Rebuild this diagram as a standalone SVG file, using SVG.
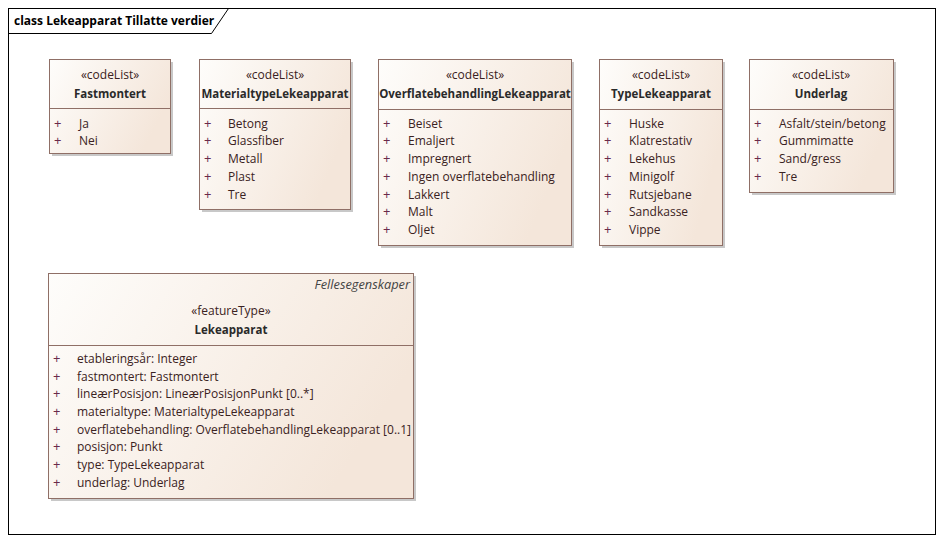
<svg xmlns="http://www.w3.org/2000/svg" width="944" height="543" viewBox="0 0 944 543">
<defs>
<linearGradient id="g" x1="0" y1="0" x2="1" y2="0.4">
<stop offset="0" stop-color="#fefdfb"/>
<stop offset="1" stop-color="#f4e6da"/>
</linearGradient>
<style>
.box{fill:url(#g);stroke:#8f6f66;stroke-width:1}
.sh{fill:#c8c8c8}
.div{stroke:#8f6f66;stroke-width:1}
text{font-family:"Open Sans","Noto Sans",sans-serif;font-size:12px;fill:#3a2222}
.st{text-anchor:middle;fill:#3a2222}
.nm{text-anchor:middle;font-weight:bold;fill:#2a2a2a;font-size:11.5px}
.pl{fill:#6a2a4a;font-size:13px}
.it{font-style:italic;text-anchor:end;fill:#444;font-size:12.8px}
.fr{fill:none;stroke:#000;stroke-width:1}
.ttl{font-weight:bold;fill:#000;font-size:12px}
</style>
</defs>
<rect x="0" y="0" width="944" height="543" fill="#fff"/>
<g id="frame">
<rect class="fr" x="8.5" y="8.5" width="927" height="526"/>
<path class="fr" d="M8.5 33.5 H211.5 L228.5 8.5"/>
<text class="ttl" x="14" y="25">class Lekeapparat Tillatte verdier</text>
</g>
<g id="connectors"></g>
<g id="Fastmontert">
<rect class="sh" x="52" y="62" width="121" height="94"/>
<rect class="box" x="49.5" y="59.5" width="121" height="94"/>
<line class="div" x1="49.5" y1="108.5" x2="170.5" y2="108.5"/>
<text class="st" x="110" y="79">«codeList»</text>
<text class="nm" x="110" y="98">Fastmontert</text>
<text class="pl" x="54" y="128">+</text><text x="79" y="128">Ja</text>
<text class="pl" x="54" y="145">+</text><text x="79" y="145">Nei</text>
</g>
<g id="MaterialtypeLekeapparat">
<rect class="sh" x="202" y="62" width="151" height="150"/>
<rect class="box" x="199.5" y="59.5" width="151" height="150"/>
<line class="div" x1="199.5" y1="108.5" x2="350.5" y2="108.5"/>
<text class="st" x="275" y="79">«codeList»</text>
<text class="nm" x="275" y="98">MaterialtypeLekeapparat</text>
<text class="pl" x="204" y="128">+</text><text x="228" y="128">Betong</text>
<text class="pl" x="204" y="145">+</text><text x="228" y="145">Glassfiber</text>
<text class="pl" x="204" y="163">+</text><text x="228" y="163">Metall</text>
<text class="pl" x="204" y="181">+</text><text x="228" y="181">Plast</text>
<text class="pl" x="204" y="199">+</text><text x="228" y="199">Tre</text>
</g>
<g id="OverflatebehandlingLekeapparat">
<rect class="sh" x="381" y="62" width="193" height="186"/>
<rect class="box" x="378.5" y="59.5" width="193" height="186"/>
<line class="div" x1="378.5" y1="109.5" x2="571.5" y2="109.5"/>
<text class="st" x="475" y="79">«codeList»</text>
<text class="nm" x="475" y="98">OverflatebehandlingLekeapparat</text>
<text class="pl" x="383" y="128">+</text><text x="408" y="128">Beiset</text>
<text class="pl" x="383" y="145">+</text><text x="408" y="145">Emaljert</text>
<text class="pl" x="383" y="163">+</text><text x="408" y="163">Impregnert</text>
<text class="pl" x="383" y="181">+</text><text x="408" y="181">Ingen overflatebehandling</text>
<text class="pl" x="383" y="199">+</text><text x="408" y="199">Lakkert</text>
<text class="pl" x="383" y="216">+</text><text x="408" y="216">Malt</text>
<text class="pl" x="383" y="234">+</text><text x="408" y="234">Oljet</text>
</g>
<g id="TypeLekeapparat">
<rect class="sh" x="602" y="62" width="123" height="186"/>
<rect class="box" x="599.5" y="59.5" width="123" height="186"/>
<line class="div" x1="599.5" y1="109.5" x2="722.5" y2="109.5"/>
<text class="st" x="661" y="79">«codeList»</text>
<text class="nm" x="661" y="98">TypeLekeapparat</text>
<text class="pl" x="604" y="128">+</text><text x="629" y="128">Huske</text>
<text class="pl" x="604" y="145">+</text><text x="629" y="145">Klatrestativ</text>
<text class="pl" x="604" y="163">+</text><text x="629" y="163">Lekehus</text>
<text class="pl" x="604" y="181">+</text><text x="629" y="181">Minigolf</text>
<text class="pl" x="604" y="199">+</text><text x="629" y="199">Rutsjebane</text>
<text class="pl" x="604" y="216">+</text><text x="629" y="216">Sandkasse</text>
<text class="pl" x="604" y="234">+</text><text x="629" y="234">Vippe</text>
</g>
<g id="Underlag">
<rect class="sh" x="752" y="62" width="144" height="133"/>
<rect class="box" x="749.5" y="59.5" width="144" height="133"/>
<line class="div" x1="749.5" y1="109.5" x2="893.5" y2="109.5"/>
<text class="st" x="821" y="79">«codeList»</text>
<text class="nm" x="821" y="98">Underlag</text>
<text class="pl" x="754" y="128">+</text><text x="779" y="128">Asfalt/stein/betong</text>
<text class="pl" x="754" y="145">+</text><text x="779" y="145">Gummimatte</text>
<text class="pl" x="754" y="163">+</text><text x="779" y="163">Sand/gress</text>
<text class="pl" x="754" y="181">+</text><text x="779" y="181">Tre</text>
</g>
<g id="Lekeapparat">
<rect class="sh" x="51" y="276" width="365" height="225"/>
<rect class="box" x="48.5" y="273.5" width="365" height="225"/>
<line class="div" x1="48.5" y1="345.5" x2="413.5" y2="345.5"/>
<text class="it" x="410" y="289">Fellesegenskaper</text>
<text class="st" x="231" y="315">«featureType»</text>
<text class="nm" x="231" y="334">Lekeapparat</text>
<text class="pl" x="53" y="363">+</text><text x="77" y="363">etableringsår: Integer</text>
<text class="pl" x="53" y="381">+</text><text x="77" y="381">fastmontert: Fastmontert</text>
<text class="pl" x="53" y="398">+</text><text x="77" y="398">lineærPosisjon: LineærPosisjonPunkt [0..*]</text>
<text class="pl" x="53" y="416">+</text><text x="77" y="416">materialtype: MaterialtypeLekeapparat</text>
<text class="pl" x="53" y="434">+</text><text x="77" y="434">overflatebehandling: OverflatebehandlingLekeapparat [0..1]</text>
<text class="pl" x="53" y="451">+</text><text x="77" y="451">posisjon: Punkt</text>
<text class="pl" x="53" y="469">+</text><text x="77" y="469">type: TypeLekeapparat</text>
<text class="pl" x="53" y="487">+</text><text x="77" y="487">underlag: Underlag</text>
</g>
</svg>
